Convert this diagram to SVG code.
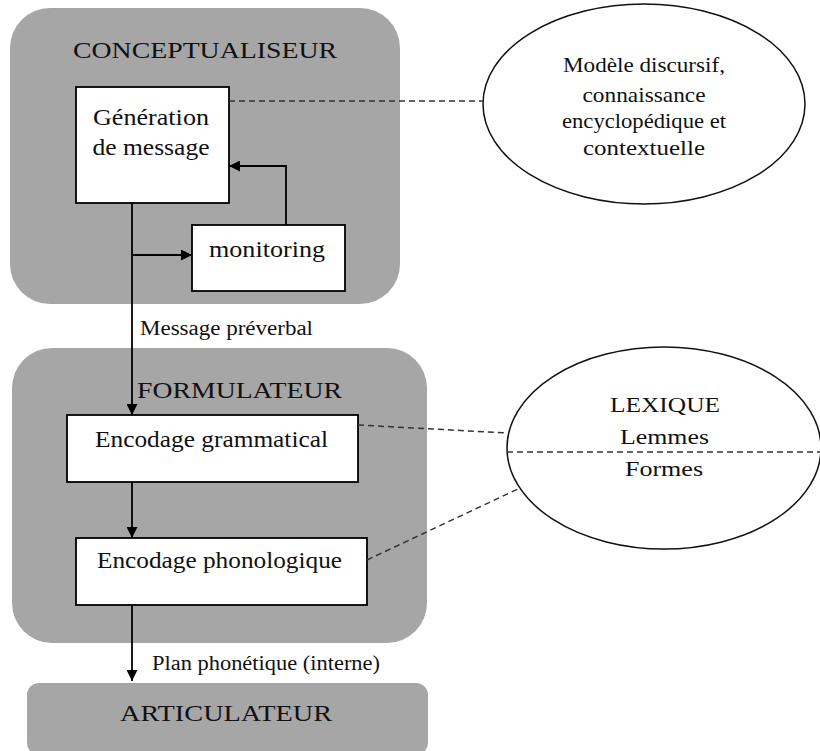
<svg xmlns="http://www.w3.org/2000/svg" width="820" height="751" viewBox="0 0 820 751">
<defs>
<style>
.grp{fill:#a6a6a6;stroke:none}
.box{fill:#fff;stroke:#000;stroke-width:1.8}
.ell{fill:#fff;stroke:#111;stroke-width:1.5}
.t{font-family:"Liberation Serif","Times New Roman",serif;fill:#111;text-anchor:middle}
.ln{stroke:#000;stroke-width:1.8;fill:none}
.dash{stroke:#333;stroke-width:1.5;stroke-dasharray:6 4;fill:none}
</style>
<marker id="ah" viewBox="0 0 10 10" refX="10" refY="5" markerWidth="11" markerHeight="11" markerUnits="userSpaceOnUse" orient="auto">
<path d="M0,0 L10,5 L0,10 z" fill="#000"/>
</marker>
</defs>
<rect width="820" height="751" fill="#fff"/>

<g id="conceptualiseur">
<rect class="grp" x="10" y="8" width="390" height="296" rx="40"/>
<text class="t" x="205" y="58" font-size="23" textLength="264" lengthAdjust="spacingAndGlyphs">CONCEPTUALISEUR</text>
</g>
<g id="formulateur">
<rect class="grp" x="12" y="348" width="415" height="295" rx="40"/>
<text class="t" x="239.5" y="398" font-size="23" textLength="205" lengthAdjust="spacingAndGlyphs">FORMULATEUR</text>
</g>
<g id="articulateur">
<rect class="grp" x="27" y="683" width="401" height="72" rx="12"/>
<text class="t" x="226" y="721" font-size="23" textLength="212" lengthAdjust="spacingAndGlyphs">ARTICULATEUR</text>
</g>

<g id="generation">
<rect class="box" x="76" y="87" width="153" height="116"/>
<text class="t" x="151" y="125" font-size="23" textLength="116" lengthAdjust="spacingAndGlyphs">Génération</text>
<text class="t" x="151" y="155" font-size="23" textLength="117" lengthAdjust="spacingAndGlyphs">de message</text>
</g>
<g id="monitoring">
<rect class="box" x="192" y="225" width="153" height="66"/>
<text class="t" x="267" y="257" font-size="23" textLength="116" lengthAdjust="spacingAndGlyphs">monitoring</text>
</g>
<g id="encodage-grammatical">
<rect class="box" x="67" y="415" width="291" height="67"/>
<text class="t" x="211.5" y="447" font-size="23" textLength="233" lengthAdjust="spacingAndGlyphs">Encodage grammatical</text>
</g>
<g id="encodage-phonologique">
<rect class="box" x="76" y="538" width="291" height="67"/>
<text class="t" x="219.5" y="568" font-size="23" textLength="245" lengthAdjust="spacingAndGlyphs">Encodage phonologique</text>
</g>

<g id="modele">
<ellipse class="ell" cx="644" cy="104" rx="161" ry="100"/>
<text class="t" x="644" y="72" font-size="21" textLength="162" lengthAdjust="spacingAndGlyphs">Modèle discursif,</text>
<text class="t" x="644" y="102" font-size="21" textLength="123" lengthAdjust="spacingAndGlyphs">connaissance</text>
<text class="t" x="644" y="128" font-size="21" textLength="164" lengthAdjust="spacingAndGlyphs">encyclopédique et</text>
<text class="t" x="644" y="155" font-size="21" textLength="122" lengthAdjust="spacingAndGlyphs">contextuelle</text>
</g>
<g id="lexique">
<ellipse class="ell" cx="664" cy="448" rx="157" ry="101"/>
<line class="dash" x1="507" y1="452" x2="820" y2="452"/>
<text class="t" x="665" y="412" font-size="22" textLength="110" lengthAdjust="spacingAndGlyphs">LEXIQUE</text>
<text class="t" x="664.5" y="444" font-size="22" textLength="89" lengthAdjust="spacingAndGlyphs">Lemmes</text>
<text class="t" x="664" y="476" font-size="22" textLength="78" lengthAdjust="spacingAndGlyphs">Formes</text>
</g>

<g id="connectors">
<line class="ln" x1="132" y1="203" x2="132" y2="415" marker-end="url(#ah)"/>
<line class="ln" x1="132" y1="255" x2="192" y2="255" marker-end="url(#ah)"/>
<polyline class="ln" points="286,225 286,166 229,166" marker-end="url(#ah)"/>
<line class="ln" x1="132" y1="482" x2="132" y2="538" marker-end="url(#ah)"/>
<line class="ln" x1="132" y1="605" x2="132" y2="681" marker-end="url(#ah)"/>
<line class="dash" x1="229" y1="101" x2="483" y2="101"/>
<line class="dash" x1="358" y1="425" x2="507" y2="433"/>
<line class="dash" x1="367" y1="560" x2="520" y2="488"/>
<text class="t" x="226.5" y="335" font-size="20" textLength="173" lengthAdjust="spacingAndGlyphs">Message préverbal</text>
<text class="t" x="266" y="670" font-size="20" textLength="228" lengthAdjust="spacingAndGlyphs">Plan phonétique (interne)</text>
</g>
</svg>
